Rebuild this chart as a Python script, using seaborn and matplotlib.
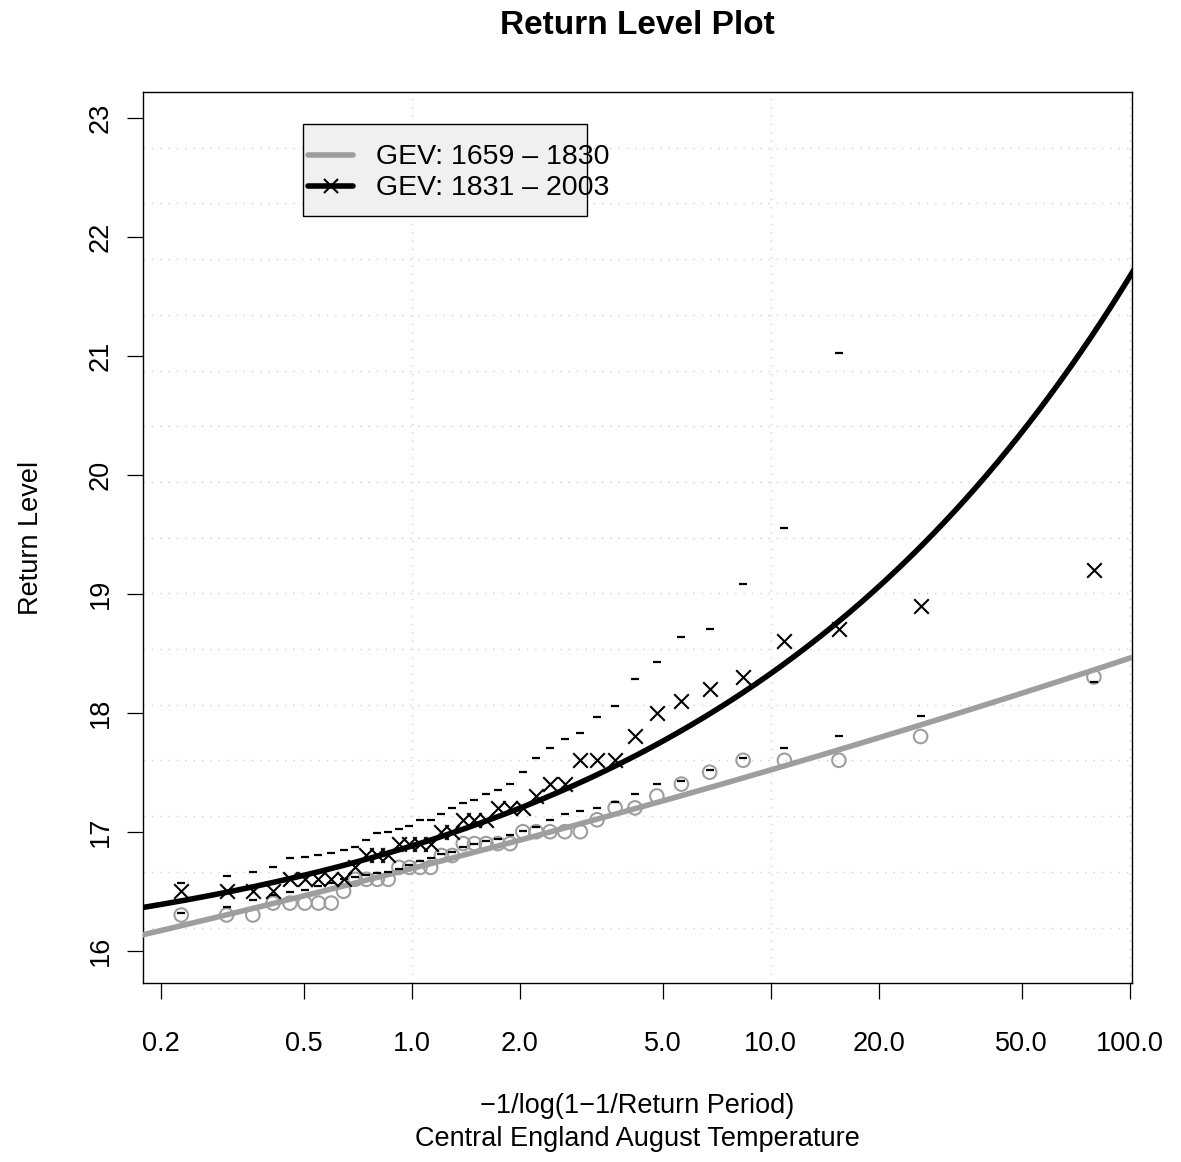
import numpy as np
import pandas as pd
import matplotlib
matplotlib.use("Agg")
import matplotlib.pyplot as plt
import seaborn as sns
from matplotlib.patches import Rectangle
from matplotlib.lines import Line2D

# ---------------- data ----------------
x_pos = [0.228, 0.305, 0.361, 0.411, 0.458, 0.504, 0.550, 0.597, 0.646, 0.696,
         0.748, 0.802, 0.860, 0.921, 0.986, 1.055, 1.129, 1.210, 1.297, 1.392,
         1.496, 1.611, 1.738, 1.880, 2.040, 2.221, 2.428, 2.669, 2.950, 3.284,
         3.687, 4.186, 4.817, 5.640, 6.761, 8.380, 10.92, 15.49, 26.16, 79.5]

early_obs = [16.3, 16.3, 16.3, 16.4, 16.4, 16.4, 16.4, 16.4, 16.5, 16.6,
             16.6, 16.6, 16.6, 16.7, 16.7, 16.7, 16.7, 16.8, 16.8, 16.9,
             16.9, 16.9, 16.9, 16.9, 17.0, 17.0, 17.0, 17.0, 17.0, 17.1,
             17.2, 17.2, 17.3, 17.4, 17.5, 17.6, 17.6, 17.6, 17.8, 18.3]

late_obs = [16.5, 16.5, 16.5, 16.5, 16.6, 16.6, 16.6, 16.6, 16.6, 16.7,
            16.8, 16.8, 16.8, 16.9, 16.9, 16.9, 16.9, 17.0, 17.0, 17.1,
            17.1, 17.1, 17.2, 17.2, 17.2, 17.3, 17.4, 17.4, 17.6, 17.6,
            17.6, 17.8, 18.0, 18.1, 18.2, 18.3, 18.6, 18.7, 18.9, 19.2]

upper_dash = [16.57, 16.63, 16.66, 16.70, 16.78, 16.79, 16.80, 16.82, 16.85, 16.87,
              16.93, 16.99, 17.00, 17.02, 17.05, 17.10, 17.10, 17.15, 17.20, 17.24,
              17.27, 17.32, 17.35, 17.40, 17.50, 17.62, 17.70, 17.78, 17.83, 17.96,
              18.06, 18.28, 18.43, 18.64, 18.70, 19.08, 19.55, 21.02, np.nan, np.nan]

lower_dash = [16.32, 16.37, 16.43, 16.47, 16.49, 16.51, 16.54, 16.57, 16.60, 16.62,
              16.64, 16.65, 16.66, 16.69, 16.72, 16.75, 16.78, 16.81, 16.83, 16.87,
              16.90, 16.92, 16.94, 16.97, 17.01, 17.04, 17.10, 17.15, 17.17, 17.20,
              17.25, 17.32, 17.40, 17.43, 17.52, 17.62, 17.70, 17.80, 17.97, 18.26]

# fitted GEV parameters (location, scale, shape)
gev_early = (16.69, 0.338, 0.0542)
gev_late = (16.88, 0.403, 0.362)

legend_labels = ["GEV: 1659 \u2013 1830", "GEV: 1831 \u2013 2003"]
x_ticks = [0.2, 0.5, 1, 2, 5, 10, 20, 50, 100]
x_ticklabels = ["0.2", "0.5", "1.0", "2.0", "5.0", "10.0", "20.0", "50.0", "100.0"]
y_ticks = [16, 17, 18, 19, 20, 21, 22, 23]

GRAY = "#9E9E9E"

# ---------------- figure ----------------
sns.set_theme(style="white")
plt.rcParams["font.family"] = ["Liberation Sans", "DejaVu Sans"]
plt.rcParams["axes.unicode_minus"] = True
plt.rcParams["text.color"] = "black"

W, H = 1181, 1162
fig = plt.figure(figsize=(W / 100, H / 100), dpi=100)
fig.patch.set_facecolor("white")
L, R_, T, B = 143.3, 1132.0, 92.0, 983.3
ax = fig.add_axes([L / W, 1 - B / H, (R_ - L) / W, (B - T) / H])
ax.set_facecolor("white")
ax.set_xscale("log")
xlim = (0.1788, 101.5)
ylim = (15.726, 23.216)
ax.set_xlim(*xlim)
ax.set_ylim(*ylim)

# grid (R style dotted lightgray)
cell = (ylim[1] - ylim[0]) / 16
for k in range(1, 16):
    ax.axhline(ylim[0] + k * cell, color="#CFCFCF", lw=1.0, ls=(0, (1, 5)), zorder=0)
for v in [1, 10, 100]:
    ax.axvline(v, color="#CFCFCF", lw=1.0, ls=(0, (1, 5)), zorder=0)

# fitted curves
xs = np.logspace(np.log10(0.15), np.log10(120), 400)
def gev_level(x, p):
    mu, sig, xi = p
    return mu + sig / xi * (x ** xi - 1)

curves = pd.concat([
    pd.DataFrame({"x": xs, "z": gev_level(xs, gev_early), "fit": legend_labels[0]}),
    pd.DataFrame({"x": xs, "z": gev_level(xs, gev_late), "fit": legend_labels[1]}),
])
sns.lineplot(data=curves, x="x", y="z", hue="fit",
             palette={legend_labels[0]: GRAY, legend_labels[1]: "black"},
             lw=4, legend=False, ax=ax, zorder=3)

obs = pd.DataFrame({"x": x_pos, "early": early_obs, "late": late_obs,
                    "up": upper_dash, "lo": lower_dash})

sns.scatterplot(data=obs, x="x", y="early", marker="o", s=95,
                facecolor="none", edgecolor=GRAY, linewidth=1.5, ax=ax, zorder=4)
sns.scatterplot(data=obs, x="x", y="late", marker="x", s=110,
                color="black", linewidth=1.5, ax=ax, zorder=4)
sns.scatterplot(data=obs, x="x", y="up", marker="_", s=28,
                color="black", linewidth=1.6, ax=ax, zorder=5)
sns.scatterplot(data=obs, x="x", y="lo", marker="_", s=28,
                color="black", linewidth=1.6, ax=ax, zorder=5)

# axes styling
for s in ax.spines.values():
    s.set_color("black")
    s.set_linewidth(1.0)
    s.set_visible(True)
ax.set_xticks(x_ticks)
ax.set_xticklabels(x_ticklabels)
ax.xaxis.set_minor_locator(matplotlib.ticker.NullLocator())
ax.set_yticks(y_ticks)
ax.set_yticklabels([str(v) for v in y_ticks], rotation=90, va="center")
ax.tick_params(axis="both", which="major", direction="out", length=11.5, width=0.9,
               color="black", labelsize=19.5, labelcolor="black",
               bottom=True, left=True, top=False, right=False)
ax.tick_params(axis="x", pad=23)
ax.tick_params(axis="y", pad=10)
ax.set_xlabel("")
ax.set_ylabel("")

# titles / labels
fig.text(637.5 / W, 1 - 26 / H, "Return Level Plot", ha="center", va="center",
         fontsize=24, fontweight="bold", color="black")
fig.text(637.5 / W, 1 - 1106 / H, "\u22121/log(1\u22121/Return Period)", ha="center",
         va="center", fontsize=19.5, color="black")
fig.text(637.5 / W, 1 - 1139 / H, "Central England August Temperature", ha="center",
         va="center", fontsize=19.5, color="black")
fig.text(31 / W, 1 - 537.5 / H, "Return Level", ha="center", va="center",
         rotation=90, fontsize=19.5, color="black")

# legend (R style box, text overflows slightly)
tf = fig.transFigure
def fx(x): return x / W
def fy(y): return 1 - y / H
ax.add_patch(Rectangle((fx(302.7), fy(216)), fx(587.3) - fx(302.7), fy(124.3) - fy(216),
                       transform=tf, facecolor="#F0F0F0", edgecolor="black",
                       lw=1.0, zorder=10, clip_on=False))
ax.add_line(Line2D([fx(308), fx(353)], [fy(155), fy(155)], transform=tf, color=GRAY,
                   lw=4, solid_capstyle="round", zorder=11, clip_on=False))
ax.add_line(Line2D([fx(308), fx(353)], [fy(186), fy(186)], transform=tf, color="black",
                   lw=4, solid_capstyle="round", zorder=11, clip_on=False))
ax.add_line(Line2D([fx(330.5)], [fy(186)], transform=tf, color="black", marker="x",
                   markersize=10, mew=1.5, lw=0, zorder=12, clip_on=False))
ax.text(fx(376), fy(157), legend_labels[0], transform=tf, fontsize=20.5,
        va="center", ha="left", zorder=12, clip_on=False, color="black")
ax.text(fx(376), fy(188), legend_labels[1], transform=tf, fontsize=20.5,
        va="center", ha="left", zorder=12, clip_on=False, color="black")

fig.savefig("out.png", dpi=100, facecolor="white")
